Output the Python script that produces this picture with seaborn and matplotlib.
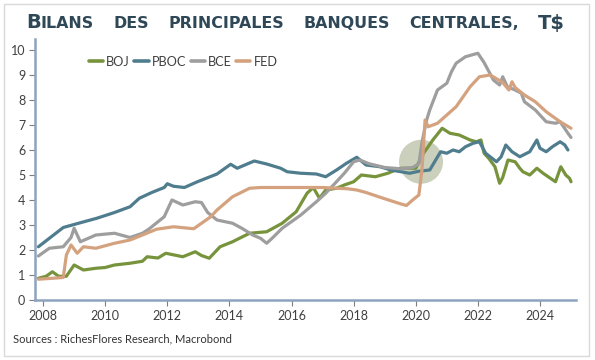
import numpy as np
import pandas as pd
import matplotlib
matplotlib.use("Agg")
import matplotlib.pyplot as plt
from matplotlib.patches import Ellipse, Rectangle
from matplotlib.font_manager import FontProperties
import seaborn as sns

# ---------------- data (decimal years, trillions USD) ----------------
boj_t = [2007.85, 2008.1, 2008.3, 2008.5, 2008.75, 2009.0, 2009.3, 2009.7, 2010.0, 2010.3,
         2010.8, 2011.2, 2011.35, 2011.7, 2011.95, 2012.5, 2012.9, 2013.1, 2013.35, 2013.7,
         2014.1, 2014.65, 2015.2, 2015.7, 2016.15, 2016.5, 2016.7, 2016.9, 2017.1, 2017.45,
         2017.7, 2018.0, 2018.25, 2018.7, 2019.1, 2019.5, 2020.0, 2020.25, 2020.55, 2020.85,
         2021.1, 2021.4, 2021.75, 2021.95, 2022.1, 2022.2, 2022.35, 2022.55, 2022.7, 2022.8,
         2022.97, 2023.2, 2023.35, 2023.45, 2023.67, 2023.9, 2024.1, 2024.5, 2024.67, 2024.83,
         2024.95, 2025.0]
boj_v = [0.87, 0.95, 1.13, 0.95, 0.95, 1.40, 1.20, 1.27, 1.30, 1.40,
         1.47, 1.55, 1.73, 1.68, 1.87, 1.73, 1.93, 1.78, 1.67, 2.13,
         2.33, 2.67, 2.73, 3.07, 3.53, 4.27, 4.50, 4.07, 4.40, 4.47,
         4.60, 4.73, 5.00, 4.93, 5.07, 5.27, 5.27, 5.87, 6.40, 6.87,
         6.67, 6.60, 6.40, 6.33, 6.40, 5.87, 5.67, 5.33, 4.67, 4.90,
         5.60, 5.53, 5.27, 5.13, 5.00, 5.27, 5.07, 4.73, 5.33, 5.00,
         4.87, 4.73]

pboc_t = [2007.85, 2008.65, 2009.2, 2009.73, 2010.3, 2010.8, 2011.1, 2011.5, 2011.9, 2012.0,
          2012.2, 2012.55, 2012.97, 2013.6, 2014.04, 2014.25, 2014.8, 2015.2, 2015.65, 2015.86,
          2016.3, 2016.8, 2017.1, 2017.45, 2017.77, 2018.1, 2018.4, 2018.85, 2019.2, 2019.8,
          2020.1, 2020.45, 2020.8, 2021.0, 2021.2, 2021.4, 2021.6, 2021.85, 2022.05, 2022.25,
          2022.6, 2022.75, 2022.9, 2023.1, 2023.35, 2023.67, 2023.9, 2024.0, 2024.2, 2024.4,
          2024.65, 2024.8, 2024.9]
pboc_v = [2.13, 2.90, 3.09, 3.27, 3.50, 3.73, 4.07, 4.30, 4.50, 4.65,
          4.55, 4.50, 4.73, 5.04, 5.43, 5.27, 5.56, 5.44, 5.27, 5.13,
          5.07, 5.04, 4.93, 5.20, 5.47, 5.71, 5.40, 5.33, 5.20, 5.07,
          5.15, 5.20, 5.93, 5.87, 6.00, 5.93, 6.13, 6.27, 6.33, 5.87,
          5.53, 5.73, 6.20, 5.93, 5.73, 5.93, 6.40, 6.07, 5.93, 6.13,
          6.33, 6.20, 6.00]

bce_t = [2007.85, 2008.2, 2008.65, 2008.9, 2009.0, 2009.2, 2009.7, 2010.3, 2010.8, 2011.2,
         2011.4, 2011.9, 2012.15, 2012.5, 2012.9, 2013.1, 2013.3, 2013.6, 2014.1, 2014.4,
         2014.75, 2015.0, 2015.2, 2015.4, 2015.7, 2016.3, 2016.8, 2017.1, 2017.35, 2017.7,
         2018.0, 2018.2, 2018.5, 2019.0, 2019.5, 2019.9, 2020.1, 2020.2, 2020.35, 2020.45,
         2020.7, 2021.0, 2021.15, 2021.3, 2021.6, 2022.0, 2022.2, 2022.5, 2022.7, 2022.8,
         2022.95, 2023.2, 2023.4, 2023.5, 2023.85, 2024.2, 2024.5, 2024.65, 2024.9, 2025.0]
bce_v = [1.76, 2.07, 2.13, 2.50, 2.87, 2.33, 2.60, 2.67, 2.50, 2.67,
         2.83, 3.33, 4.00, 3.80, 3.93, 3.90, 3.50, 3.20, 3.07, 2.87,
         2.60, 2.47, 2.27, 2.50, 2.87, 3.40, 3.93, 4.27, 4.60, 5.07,
         5.53, 5.60, 5.45, 5.30, 5.25, 5.30, 5.45, 6.30, 7.20, 7.60,
         8.40, 8.67, 9.13, 9.47, 9.73, 9.87, 9.50, 8.80, 8.60, 8.93,
         8.53, 8.40, 8.27, 7.93, 7.60, 7.13, 7.07, 7.13, 6.67, 6.50]

fed_t = [2007.85, 2008.65, 2008.75, 2008.9, 2009.1, 2009.3, 2009.7, 2010.3, 2010.8, 2011.2,
         2011.65, 2012.2, 2012.85, 2013.4, 2013.6, 2014.1, 2014.65, 2015.0, 2016.0, 2017.0,
         2017.8, 2018.1, 2018.4, 2018.95, 2019.5, 2019.7, 2019.9, 2020.1, 2020.2, 2020.3,
         2020.4, 2020.7, 2021.3, 2021.75, 2022.05, 2022.4, 2022.8, 2023.0, 2023.1, 2023.2,
         2023.5, 2023.85, 2024.2, 2024.65, 2025.0]
fed_v = [0.83, 0.90, 1.80, 2.20, 1.87, 2.13, 2.07, 2.27, 2.40, 2.60,
         2.83, 2.93, 2.85, 3.33, 3.60, 4.13, 4.47, 4.50, 4.50, 4.50,
         4.45, 4.40, 4.30, 4.07, 3.85, 3.78, 4.00, 4.20, 5.20, 7.20,
         6.93, 7.07, 7.73, 8.53, 8.93, 9.00, 8.70, 8.40, 8.73, 8.50,
         8.20, 7.93, 7.53, 7.13, 6.87]

series_names = ["BOJ", "PBOC", "BCE", "FED"]
colors = ["#77933c", "#4f7d8e", "#9e9e9e", "#d4a27f"]
year_ticks = [2008, 2010, 2012, 2014, 2016, 2018, 2020, 2022, 2024]
y_ticks = [0, 1, 2, 3, 4, 5, 6, 7, 8, 9, 10]
highlight_center = (2020.17, 5.53)
title_words = [("B", "ILANS"), ("", "DES"), ("", "PRINCIPALES"), ("", "BANQUES"),
               ("", "CENTRALES,"), ("T$", "")]
source_text = "Sources : RichesFlores Research, Macrobond"

frames = []
for name, t, v in zip(series_names, [boj_t, pboc_t, bce_t, fed_t], [boj_v, pboc_v, bce_v, fed_v]):
    frames.append(pd.DataFrame({"date": t, "value": v, "bank": name}))
df = pd.concat(frames, ignore_index=True)

# ---------------- figure ----------------
sns.set_theme(style="white")
plt.rcParams["font.family"] = ["Lato", "DejaVu Sans"]

W, H = 595, 360
fig = plt.figure(figsize=(W / 100, H / 100), dpi=100)
ax = fig.add_axes([35 / W, 1 - 300 / H, (576 - 35) / W, (300 - 39) / H])

# highlight circle (under the lines)
ax.add_patch(Ellipse(highlight_center, width=44 / 31.06, height=44 / 25.0,
                     facecolor="#c5cbb5", edgecolor="none", alpha=0.9, zorder=1))

sns.lineplot(data=df, x="date", y="value", hue="bank", hue_order=series_names,
             palette=dict(zip(series_names, colors)), estimator=None, sort=False,
             linewidth=2.3, ax=ax, zorder=3)

ax.set_xlim(2007.74, 2025.16)
ax.set_ylim(0, 10.44)
ax.set_xticks(year_ticks)
ax.set_xticklabels([str(y) for y in year_ticks])
ax.set_yticks(y_ticks)
ax.set_xlabel("")
ax.set_ylabel("")

for s in ["top", "right"]:
    ax.spines[s].set_visible(False)
for s in ["left", "bottom"]:
    ax.spines[s].set_color("#8ea4be")
    ax.spines[s].set_linewidth(1.8)
ax.tick_params(axis="both", which="major", direction="out", length=4, width=0.8,
               color="#7f7f7f", labelsize=9, labelcolor="#404040", pad=3, bottom=True, left=True)

handles, labels = ax.get_legend_handles_labels()
leg = ax.legend(handles, labels, loc="center", bbox_to_anchor=(0.274, 0.912), ncol=4,
                frameon=False, fontsize=9.2, handlelength=1.1, handletextpad=0.25,
                columnspacing=0.35, borderaxespad=0)
for line in leg.get_lines():
    line.set_linewidth(2.6)
for txt in leg.get_texts():
    txt.set_color("#404040")

# ---------------- title (small caps emulation, spread over the frame width) ----------------
title_color = "#2f4858"
fp_big = FontProperties(family="DejaVu Sans", weight="bold", size=14)
fp_small = FontProperties(family="DejaVu Sans", weight="bold", size=11.4)
x0, x1, base = 26 / W, 565 / W, 1 - 28.5 / H
renderer = fig.canvas.get_renderer()

pieces = []
for cap, rest in title_words:
    word_objs = []
    if cap:
        word_objs.append(fig.text(0, base, cap, fontproperties=fp_big, color=title_color,
                                  va="baseline", ha="left"))
    if rest:
        word_objs.append(fig.text(0, base, rest, fontproperties=fp_small, color=title_color,
                                  va="baseline", ha="left"))
    pieces.append(word_objs)

widths = [[o.get_window_extent(renderer).width / W for o in word_objs] for word_objs in pieces]
total = sum(sum(w) for w in widths)
gap = max((x1 - x0 - total) / (len(pieces) - 1), 5 / W)
x = x0
for word_objs, ws in zip(pieces, widths):
    for o, w in zip(word_objs, ws):
        o.set_x(x)
        x += w
    x += gap

fig.text(13 / W, 1 - 339 / H, source_text, fontsize=8, color="#333333", va="center", ha="left")

fig.patches.append(Rectangle((4 / W, 4 / H), 585 / W, 352 / H, transform=fig.transFigure,
                             fill=False, edgecolor="#d9d9d9", linewidth=1))

fig.savefig("out.png", dpi=100)
